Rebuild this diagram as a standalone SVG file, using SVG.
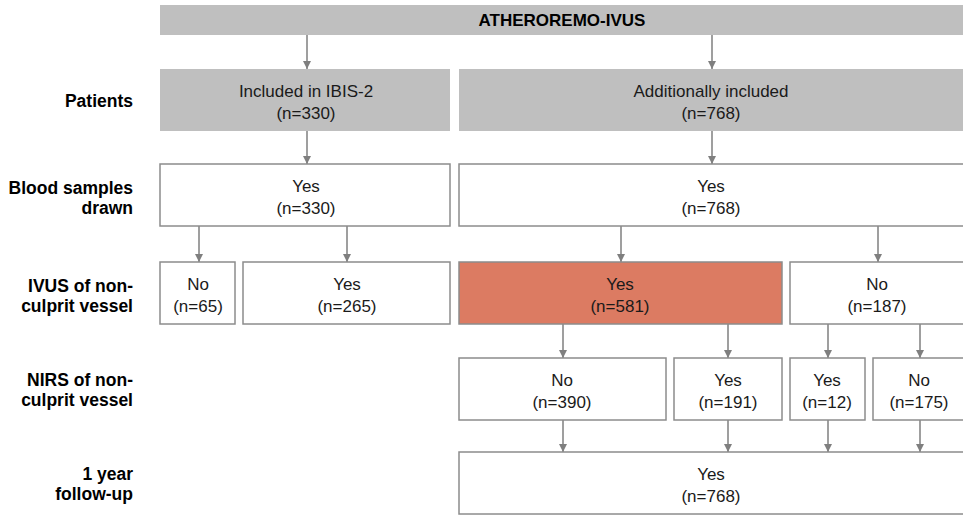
<svg xmlns="http://www.w3.org/2000/svg" width="963" height="515" viewBox="0 0 963 515">
<defs>
<marker id="ah" viewBox="0 0 10 10" refX="10" refY="5" markerWidth="8" markerHeight="8" markerUnits="userSpaceOnUse" orient="auto">
<path d="M0,0 L10,5 L0,10 z" fill="#7f7f7f"/>
</marker>
<style>
.g{fill:#bfbfbf;stroke:none}
.w{fill:#ffffff;stroke:#8c8c8c;stroke-width:1.5}
.o{fill:#dc7b62;stroke:#8c8c8c;stroke-width:1.5}
.t{font-family:"Liberation Sans",Arial,sans-serif;font-size:17px;fill:#1a1a1a;text-anchor:middle}
.b{font-family:"Liberation Sans",Arial,sans-serif;font-size:17.5px;font-weight:bold;fill:#000;text-anchor:end}
.tb{font-family:"Liberation Sans",Arial,sans-serif;font-size:17px;font-weight:bold;fill:#000;text-anchor:middle}
.c{stroke:#7f7f7f;stroke-width:1.5;fill:none;marker-end:url(#ah)}
</style>
</defs>
<rect width="963" height="515" fill="#ffffff"/>
<g id="labels">
<text class="b" x="133" y="107">Patients</text>
<text class="b" x="133" y="194">Blood samples</text>
<text class="b" x="133" y="214">drawn</text>
<text class="b" x="133" y="292">IVUS of non-</text>
<text class="b" x="133" y="312">culprit vessel</text>
<text class="b" x="133" y="386">NIRS of non-</text>
<text class="b" x="133" y="406">culprit vessel</text>
<text class="b" x="133" y="480">1 year</text>
<text class="b" x="133" y="500">follow-up</text>
</g>
<g id="connectors">
<line class="c" x1="307" y1="35" x2="307" y2="69"/>
<line class="c" x1="712" y1="35" x2="712" y2="69"/>
<line class="c" x1="307" y1="131" x2="307" y2="164"/>
<line class="c" x1="712" y1="131" x2="712" y2="164"/>
<line class="c" x1="199" y1="226" x2="199" y2="262"/>
<line class="c" x1="347" y1="226" x2="347" y2="262"/>
<line class="c" x1="621" y1="226" x2="621" y2="262"/>
<line class="c" x1="878" y1="226" x2="878" y2="262"/>
<line class="c" x1="563" y1="324" x2="563" y2="358"/>
<line class="c" x1="728" y1="324" x2="728" y2="358"/>
<line class="c" x1="828" y1="324" x2="828" y2="358"/>
<line class="c" x1="920" y1="324" x2="920" y2="358"/>
<line class="c" x1="563" y1="420" x2="563" y2="452"/>
<line class="c" x1="728" y1="420" x2="728" y2="452"/>
<line class="c" x1="828" y1="420" x2="828" y2="452"/>
<line class="c" x1="920" y1="420" x2="920" y2="452"/>
</g>
<g id="n-top">
<rect class="g" x="160" y="5" width="810" height="30"/>
<text class="tb" x="562" y="26">ATHEROREMO-IVUS</text>
</g>
<g id="n-ibis">
<rect class="g" x="160" y="69" width="290" height="62"/>
<text class="t" x="306" y="97">Included in IBIS-2</text>
<text class="t" x="306" y="119">(n=330)</text>
</g>
<g id="n-add">
<rect class="g" x="459" y="69" width="510" height="62"/>
<text class="t" x="711" y="97">Additionally included</text>
<text class="t" x="711" y="119">(n=768)</text>
</g>
<g id="n-blood-l">
<rect class="w" x="160" y="164" width="290" height="62"/>
<text class="t" x="306" y="192">Yes</text>
<text class="t" x="306" y="214">(n=330)</text>
</g>
<g id="n-blood-r">
<rect class="w" x="459" y="164" width="510" height="62"/>
<text class="t" x="711" y="192">Yes</text>
<text class="t" x="711" y="214">(n=768)</text>
</g>
<g id="n-ivus-no65">
<rect class="w" x="160" y="262" width="75" height="62"/>
<text class="t" x="198" y="290">No</text>
<text class="t" x="198" y="312">(n=65)</text>
</g>
<g id="n-ivus-yes265">
<rect class="w" x="243" y="262" width="207" height="62"/>
<text class="t" x="347" y="290">Yes</text>
<text class="t" x="347" y="312">(n=265)</text>
</g>
<g id="n-ivus-yes581">
<rect class="o" x="459" y="262" width="323" height="62"/>
<text class="t" x="620" y="290">Yes</text>
<text class="t" x="620" y="312">(n=581)</text>
</g>
<g id="n-ivus-no187">
<rect class="w" x="790" y="262" width="180" height="62"/>
<text class="t" x="877" y="290">No</text>
<text class="t" x="877" y="312">(n=187)</text>
</g>
<g id="n-nirs-no390">
<rect class="w" x="459" y="358" width="207" height="62"/>
<text class="t" x="562" y="386">No</text>
<text class="t" x="562" y="408">(n=390)</text>
</g>
<g id="n-nirs-yes191">
<rect class="w" x="674" y="358" width="108" height="62"/>
<text class="t" x="728" y="386">Yes</text>
<text class="t" x="728" y="408">(n=191)</text>
</g>
<g id="n-nirs-yes12">
<rect class="w" x="790" y="358" width="75" height="62"/>
<text class="t" x="827" y="386">Yes</text>
<text class="t" x="827" y="408">(n=12)</text>
</g>
<g id="n-nirs-no175">
<rect class="w" x="873" y="358" width="97" height="62"/>
<text class="t" x="919" y="386">No</text>
<text class="t" x="919" y="408">(n=175)</text>
</g>
<g id="n-follow">
<rect class="w" x="459" y="452" width="510" height="62"/>
<text class="t" x="711" y="480">Yes</text>
<text class="t" x="711" y="502">(n=768)</text>
</g>
</svg>
